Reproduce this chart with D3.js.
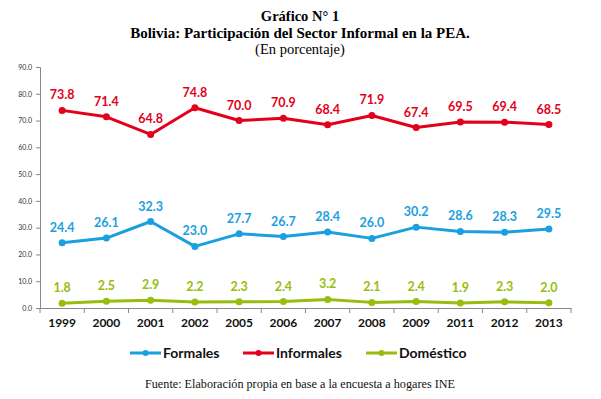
<!DOCTYPE html>
<html><head><meta charset="utf-8">
<script src="https://cdn.jsdelivr.net/npm/d3@7"></script>
<style>body{margin:0;background:#fff}</style>
</head><body>
<svg id="c" width="601" height="399"></svg>
<script>
const years = ["1999","2000","2001","2002","2005","2006","2007","2008","2009","2011","2012","2013"];
const formales = [24.4,26.1,32.3,23.0,27.7,26.7,28.4,26.0,30.2,28.6,28.3,29.5];
const informales = [73.8,71.4,64.8,74.8,70.0,70.9,68.4,71.9,67.4,69.5,69.4,68.5];
const domestico = [1.8,2.5,2.9,2.2,2.3,2.4,3.2,2.1,2.4,1.9,2.3,2.0];
const yTicks = [0,10,20,30,40,50,60,70,80,90];
const seriesNames = ["Formales","Informales","Doméstico"];
const colors = ["#1a9fe0","#e2001a","#98bd0d"];

const svg = d3.select("#c");
const x = d3.scaleBand().domain(years).range([40,571]);
const y = d3.scaleLinear().domain([0,90]).range([308,67]);

const serif = "'Liberation Serif','Times New Roman',serif";
const sans = "Lato,'Open Sans','DejaVu Sans',sans-serif";
svg.append("text").attr("x",300).attr("y",21).attr("text-anchor","middle")
  .attr("font-family",serif).attr("font-weight","bold").attr("font-size",14.5).text("Gráfico N° 1");
svg.append("text").attr("x",300).attr("y",37.5).attr("text-anchor","middle")
  .attr("font-family",serif).attr("font-weight","bold").attr("font-size",15).text("Bolivia: Participación del Sector Informal en la PEA.");
svg.append("text").attr("x",300).attr("y",54).attr("text-anchor","middle")
  .attr("font-family",serif).attr("font-size",14.5).text("(En porcentaje)");

const ya = svg.append("g").attr("transform","translate(40,0)")
  .call(d3.axisLeft(y).tickValues(yTicks).tickSize(4).tickFormat(d3.format(".1f")));
ya.selectAll("path,line").attr("stroke","#888");
ya.selectAll("text").attr("font-family",sans).attr("font-size",7).attr("fill","#333").attr("dx",-1);

const xa = svg.append("g").attr("transform","translate(0,308)")
  .call(d3.axisBottom(x).tickSize(0).tickSizeOuter(0));
xa.select("path").attr("stroke","#888");
xa.selectAll("text").attr("font-family",sans).attr("font-weight","bold").attr("font-size",12).attr("fill","#111").attr("dy","1.3em");
const bounds = years.map(d=>x(d)).concat([x.range()[1]]);
svg.append("g").selectAll("line").data(bounds).join("line")
  .attr("x1",d=>d).attr("x2",d=>d).attr("y1",308).attr("y2",313).attr("stroke","#888");

const data = [formales,informales,domestico];
const line = d3.line().x((d,i)=>x(years[i])+x.bandwidth()/2).y(d=>y(d));
data.forEach((vals,k)=>{
  const g = svg.append("g");
  g.append("path").datum(vals).attr("d",line).attr("fill","none")
    .attr("stroke",colors[k]).attr("stroke-width",3).attr("stroke-linejoin","round");
  g.selectAll("circle").data(vals).join("circle")
    .attr("cx",(d,i)=>x(years[i])+x.bandwidth()/2).attr("cy",d=>y(d)).attr("r",3.5).attr("fill",colors[k]);
  g.selectAll("text").data(vals).join("text")
    .attr("x",(d,i)=>x(years[i])+x.bandwidth()/2).attr("y",d=>y(d)-11)
    .attr("text-anchor","middle").attr("font-family",sans).attr("font-weight","bold")
    .attr("font-size",12.5).attr("fill",colors[k]).text(d=>d3.format(".1f")(d));
});

const legX = [130,243,366];
seriesNames.forEach((n,k)=>{
  const g = svg.append("g").attr("transform",`translate(${legX[k]},353)`);
  g.append("line").attr("x1",0).attr("x2",31).attr("y1",0).attr("y2",0).attr("stroke",colors[k]).attr("stroke-width",3);
  g.append("circle").attr("cx",15.5).attr("cy",0).attr("r",3).attr("fill",colors[k]);
  g.append("text").attr("x",33).attr("y",5).attr("font-family",sans).attr("font-weight","bold")
    .attr("font-size",14).attr("fill","#111").text(n);
});

svg.append("text").attr("x",300).attr("y",388).attr("text-anchor","middle")
  .attr("font-family",serif).attr("font-size",12.2).attr("fill","#111")
  .text("Fuente: Elaboración propia en base a la encuesta a hogares INE");
</script>
</body></html>
